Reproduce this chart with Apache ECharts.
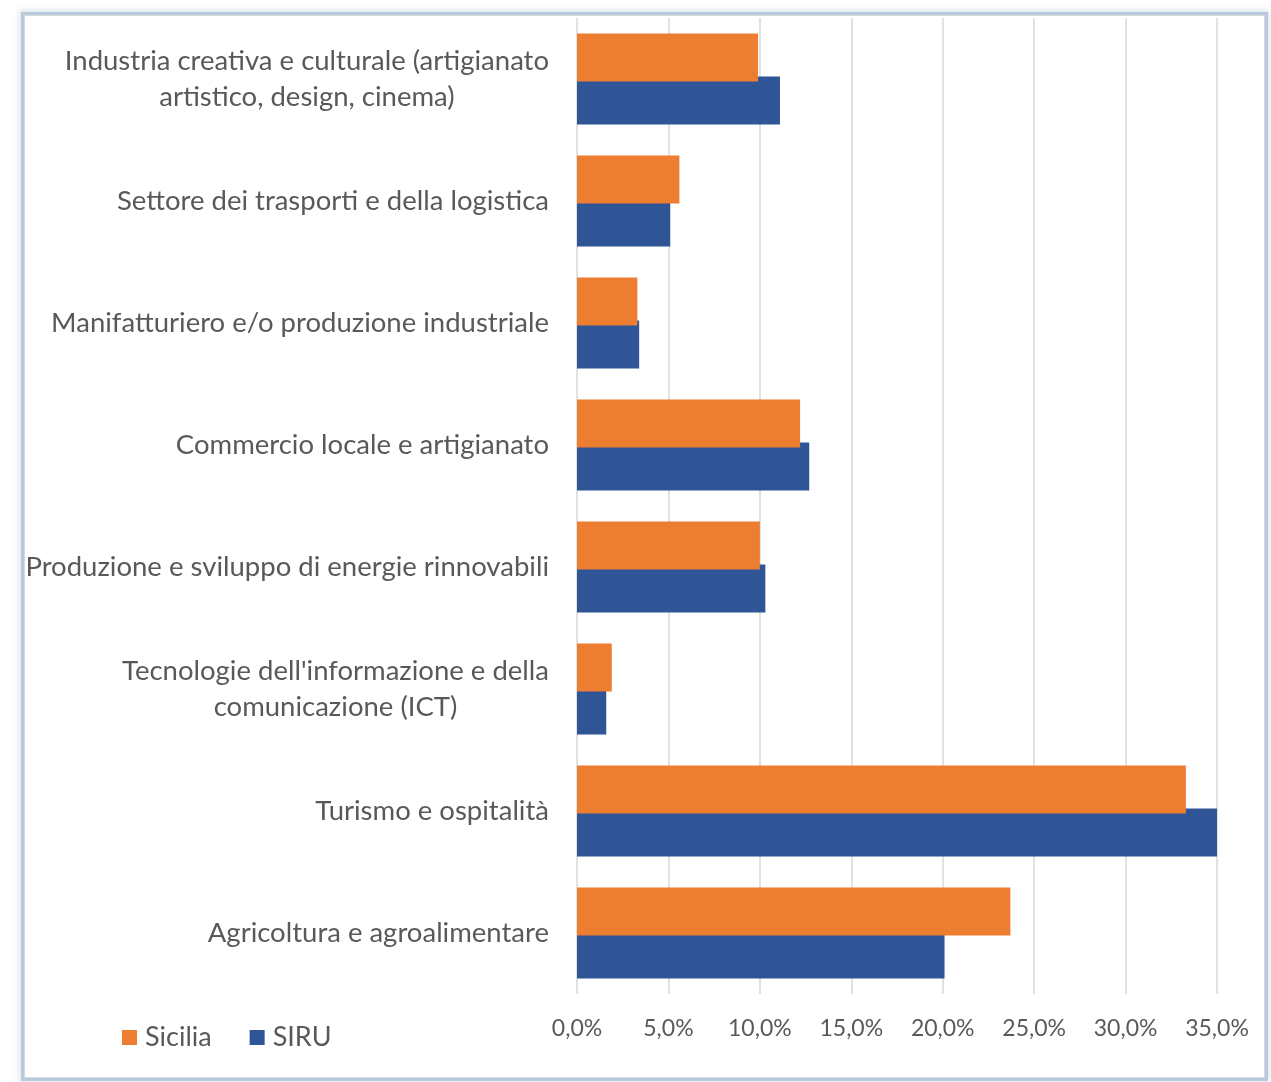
<!DOCTYPE html>
<html>
<head>
<meta charset="utf-8">
<script src="https://cdn.jsdelivr.net/npm/echarts@6/dist/echarts.min.js"></script>
<style>
  html, body { margin: 0; padding: 0; background: #ffffff; }
  #frame {
    position: absolute; left: 21px; top: 12px; width: 1241px; height: 1063px;
    border: 3px solid #b7c9db; box-shadow: 0 0 6px 2px #dde6ef;
  }
  #inner { position: absolute; left: 0; top: 0; right: 0; bottom: 0; border: 1px solid #d9d9d9; }
  #main { position: absolute; left: 0; top: 0; width: 1271px; height: 1082px; }
</style>
</head>
<body>
<div id="frame"><div id="inner"></div></div>
<div id="main"></div>
<script>
const categories = [
  'Industria creativa e culturale (artigianato\nartistico, design, cinema)',
  'Settore dei trasporti e della logistica',
  'Manifatturiero e/o produzione industriale',
  'Commercio locale e artigianato',
  'Produzione e sviluppo di energie rinnovabili',
  "Tecnologie dell'informazione e della\ncomunicazione (ICT)",
  'Turismo e ospitalità',
  'Agricoltura e agroalimentare'
];
const sicilia = [9.9, 5.6, 3.3, 12.2, 10.0, 1.9, 33.3, 23.7];
const siru = [11.1, 5.1, 3.4, 12.7, 10.3, 1.6, 35.0, 20.1];
const xTicks = [0, 5, 10, 15, 20, 25, 30, 35];

const font = 'Lato, sans-serif';
const textColor = '#595959';

const chart = echarts.init(document.getElementById('main'));

const option = {
  backgroundColor: 'transparent',
  animation: false,
  grid: { left: 577, right: 54, top: 18, bottom: 88, containLabel: false },
  legend: {
    left: 117, top: 1019,
    icon: 'rect', itemWidth: 15, itemHeight: 15, itemGap: 38,
    textStyle: { color: textColor, fontSize: 27, fontFamily: font, padding: [0, 0, 0, 3] },
    data: ['Sicilia', 'SIRU']
  },
  xAxis: {
    type: 'value',
    min: xTicks[0], max: xTicks[xTicks.length - 1], interval: 5,
    axisLine: { show: false },
    axisTick: { show: false },
    splitLine: { lineStyle: { color: '#d9d9d9', width: 1.5 } },
    axisLabel: {
      margin: 23, color: textColor, fontSize: 23, fontFamily: font,
      formatter: v => v.toFixed(1).replace('.', ',') + '%'
    }
  },
  yAxis: {
    type: 'category',
    inverse: true,
    data: categories,
    axisLine: { show: false },
    axisTick: { show: false },
    axisLabel: {
      margin: 28, color: textColor, fontSize: 27.5, fontFamily: font, lineHeight: 36,
      formatter: v => v.split('\n').map(s => '{c|' + s + '}').join('\n'),
      rich: { c: { align: 'center', color: textColor, fontSize: 27.5, fontFamily: font, lineHeight: 36 } }
    }
  },
  series: [
    {
      name: 'Sicilia', type: 'bar', data: sicilia, z: 3,
      barWidth: 48, barGap: '-10%',
      itemStyle: { color: '#ed7d31' }
    },
    {
      name: 'SIRU', type: 'bar', data: siru, z: 2,
      barWidth: 48, barGap: '-10%',
      itemStyle: { color: '#2f5597' }
    }
  ]
};

chart.setOption(option);
</script>
</body>
</html>
